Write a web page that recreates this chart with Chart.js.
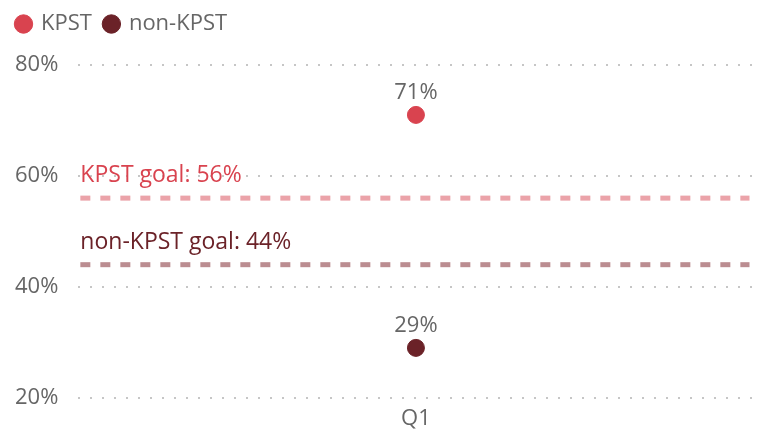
<!DOCTYPE html>
<html>
<head>
<meta charset="utf-8">
<script src="https://cdn.jsdelivr.net/npm/chart.js@4/dist/chart.umd.min.js"></script>
<style>
  html, body { margin: 0; padding: 0; background: #fff; }
  #wrap { width: 763px; height: 431px; }
</style>
</head>
<body>
<div id="wrap"><canvas id="c" width="763" height="431"></canvas></div>
<script>
const categories = ['Q1'];
const seriesNames = ['KPST', 'non-KPST'];
const kpstValues = [71];
const nonKpstValues = [29];
const goalValues = [56, 44];
const goalLabels = ['KPST goal: 56%', 'non-KPST goal: 44%'];
const yTicks = [20, 40, 60, 80];

const FONT = "'Open Sans', 'Noto Sans', sans-serif";
const FONT_SIZE = 22;
const pointColors = ['#d9434f', '#6b2228'];
const goalLineColors = ['#eba3a9', '#bb8d91'];
const goalTextColors = ['#d9434f', '#6b2228'];

// Extra room between the legend and the plot area
const legendSpacer = {
  id: 'legendSpacer',
  beforeInit(chart) {
    const fit = chart.legend.fit;
    chart.legend.fit = function () {
      fit.call(this);
      this.height += 20;
    };
  }
};

// Horizontal goal lines with captions, positioned by the y scale
const goalLinesPlugin = {
  id: 'goalLines',
  afterDatasetsDraw(chart) {
    const { ctx, chartArea, scales } = chart;
    const y = scales.y;
    ctx.save();
    goalValues.forEach((g, i) => {
      const py = y.getPixelForValue(g);
      ctx.strokeStyle = goalLineColors[i];
      ctx.lineWidth = 5;
      ctx.setLineDash([10, 10]);
      ctx.beginPath();
      ctx.moveTo(chartArea.left + 2, py);
      ctx.lineTo(chartArea.right - 4, py);
      ctx.stroke();
      ctx.setLineDash([]);
      ctx.fillStyle = goalTextColors[i];
      ctx.font = `23px ${FONT}`;
      ctx.textAlign = 'left';
      ctx.textBaseline = 'alphabetic';
      ctx.fillText(goalLabels[i], chartArea.left + 2, py - 16);
    });
    ctx.restore();
  }
};

// Value captions above each point
const valueLabelsPlugin = {
  id: 'valueLabels',
  afterDatasetsDraw(chart) {
    const { ctx } = chart;
    ctx.save();
    ctx.fillStyle = '#666666';
    ctx.font = `${FONT_SIZE}px ${FONT}`;
    ctx.textAlign = 'center';
    ctx.textBaseline = 'alphabetic';
    chart.data.datasets.forEach((ds, di) => {
      const meta = chart.getDatasetMeta(di);
      meta.data.forEach((pt, idx) => {
        ctx.fillText(ds.data[idx] + '%', pt.x, pt.y - 16);
      });
    });
    ctx.restore();
  }
};

new Chart(document.getElementById('c'), {
  type: 'line',
  data: {
    labels: categories,
    datasets: [
      {
        label: seriesNames[0],
        data: kpstValues,
        showLine: false,
        pointRadius: 8.5,
        pointHoverRadius: 8.5,
        pointBackgroundColor: pointColors[0],
        pointBorderColor: pointColors[0],
        backgroundColor: pointColors[0],
        borderColor: pointColors[0]
      },
      {
        label: seriesNames[1],
        data: nonKpstValues,
        showLine: false,
        pointRadius: 8.5,
        pointHoverRadius: 8.5,
        pointBackgroundColor: pointColors[1],
        pointBorderColor: pointColors[1],
        backgroundColor: pointColors[1],
        borderColor: pointColors[1]
      }
    ]
  },
  options: {
    responsive: false,
    animation: false,
    layout: { padding: { left: 4, right: 6, top: 0, bottom: -7 } },
    plugins: {
      legend: {
        position: 'top',
        align: 'start',
        labels: {
          usePointStyle: true,
          pointStyle: 'circle',
          boxWidth: 13,
          boxHeight: 13,
          padding: 13,
          color: '#666666',
          font: { family: FONT, size: FONT_SIZE }
        }
      },
      tooltip: { enabled: false }
    },
    scales: {
      x: {
        offset: true,
        grid: { display: false },
        border: { display: false },
        ticks: { color: '#666666', font: { family: FONT, size: FONT_SIZE }, padding: 0 }
      },
      y: {
        min: 20,
        max: 80,
        afterBuildTicks(axis) { axis.ticks = yTicks.map(v => ({ value: v })); },
        afterFit(scale) { scale.width -= 9; },
        border: { display: false, dash: [2, 10] },
        grid: { color: '#c6c6c6', lineWidth: 2, drawTicks: false },
        ticks: {
          color: '#666666',
          font: { family: FONT, size: FONT_SIZE },
          padding: 20,
          callback: v => v + '%'
        }
      }
    }
  },
  plugins: [legendSpacer, goalLinesPlugin, valueLabelsPlugin]
});
</script>
</body>
</html>
